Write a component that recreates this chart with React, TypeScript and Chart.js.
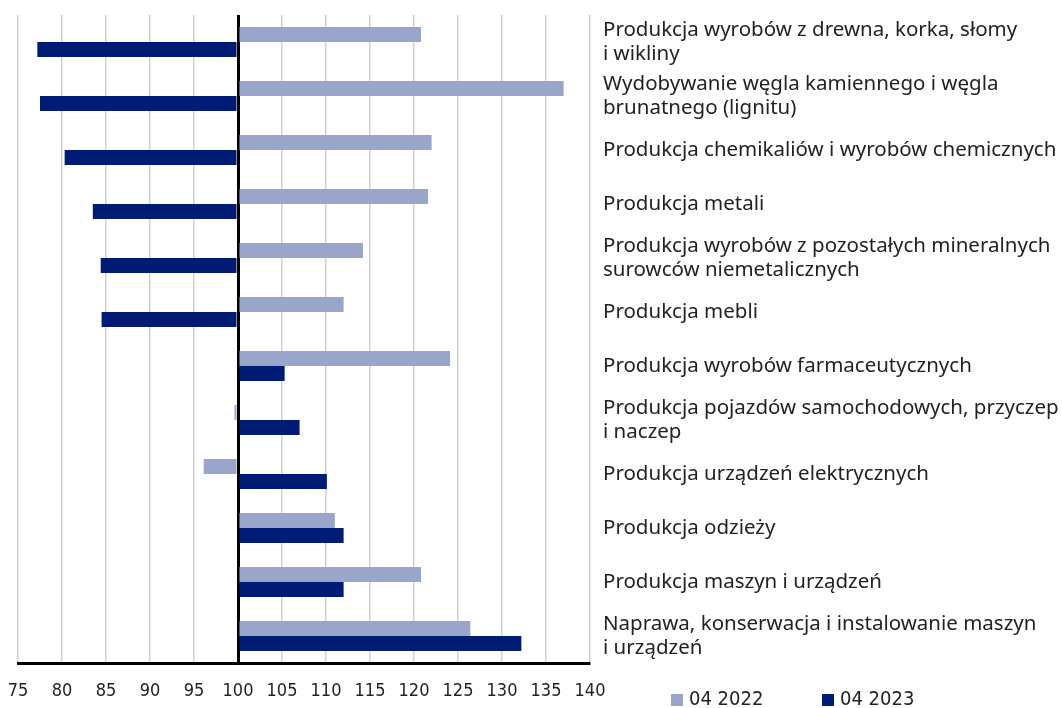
import React, { useEffect, useRef } from "react";
import { Chart, registerables } from "chart.js";

Chart.register(...registerables);

const categories: (string | string[])[] = [
  ["Produkcja wyrobów z drewna, korka, słomy", "i wikliny"],
  ["Wydobywanie węgla kamiennego i węgla", "brunatnego (lignitu)"],
  "Produkcja chemikaliów i wyrobów chemicznych",
  "Produkcja metali",
  ["Produkcja wyrobów z pozostałych mineralnych", "surowców niemetalicznych"],
  "Produkcja mebli",
  "Produkcja wyrobów farmaceutycznych",
  ["Produkcja pojazdów samochodowych, przyczep", "i naczep"],
  "Produkcja urządzeń elektrycznych",
  "Produkcja odzieży",
  "Produkcja maszyn i urządzeń",
  ["Naprawa, konserwacja i instalowanie maszyn", "i urządzeń"],
];

const series2022 = [120.8, 137.0, 122.0, 121.6, 114.2, 112.0, 124.1, 99.6, 96.1, 111.0, 120.8, 126.4];
const series2023 = [77.2, 77.5, 80.3, 83.5, 84.4, 84.5, 105.3, 107.0, 110.1, 112.0, 112.0, 132.2];
const seriesLabels = ["04 2022", "04 2023"];
const seriesColors = ["#99a5ca", "#001b73"];
const xMin = 75;
const xMax = 140;
const xStep = 5;
const baseValue = 100;

const narrowFont = "'DejaVu Sans Condensed', 'DejaVu Sans', sans-serif";

export default function App() {
  const canvasRef = useRef<HTMLCanvasElement | null>(null);

  useEffect(() => {
    if (!canvasRef.current) return;
    const chart = new Chart(canvasRef.current, {
      type: "bar",
      data: {
        labels: categories,
        datasets: [
          {
            label: seriesLabels[0],
            data: series2022,
            base: baseValue,
            backgroundColor: seriesColors[0],
            categoryPercentage: 0.56,
            barPercentage: 1,
          },
          {
            label: seriesLabels[1],
            data: series2023,
            base: baseValue,
            backgroundColor: seriesColors[1],
            categoryPercentage: 0.56,
            barPercentage: 1,
          },
        ],
      } as any,
      options: {
        indexAxis: "y",
        animation: false,
        responsive: false,
        maintainAspectRatio: false,
        layout: { padding: { left: 18, top: 15, right: 0, bottom: 0 } },
        plugins: { legend: { display: false }, tooltip: { enabled: false } },
        scales: {
          x: {
            type: "linear",
            min: xMin,
            max: xMax,
            ticks: {
              stepSize: xStep,
              color: "#222",
              padding: 18,
              font: { family: narrowFont, size: 18 },
            },
            grid: {
              drawTicks: false,
              color: (ctx: any) => (ctx.tick && ctx.tick.value === baseValue ? "#000" : "#d0d0d0"),
              lineWidth: (ctx: any) => (ctx.tick && ctx.tick.value === baseValue ? 3 : 1.5),
            },
            border: { display: true, color: "#000", width: 3 },
            afterFit: (scale: any) => {
              scale.height = 45;
              scale.paddingLeft = 0;
              scale.paddingRight = 0;
            },
          },
          y: {
            position: "right",
            grid: { display: false, drawTicks: false },
            border: { display: false },
            ticks: {
              color: "#222",
              padding: 13,
              crossAlign: "near",
              font: { family: "'Noto Sans'", size: 20.5, lineHeight: "24px" },
            },
            afterFit: (scale: any) => {
              scale.width = 472;
              scale.paddingTop = 0;
              scale.paddingBottom = 0;
            },
          },
        },
      } as any,
    });
    return () => chart.destroy();
  }, []);

  return (
    <div style={{ position: "absolute", left: 0, top: 0, width: 1062, height: 708, background: "#fff", overflow: "hidden" }}>
      <canvas ref={canvasRef} width={1062} height={708} style={{ display: "block" }} />
      {seriesLabels.map((lbl, i) => (
        <div
          key={lbl}
          style={{
            position: "absolute",
            left: i === 0 ? 671 : 822,
            top: 687,
            display: "flex",
            alignItems: "flex-end",
            fontFamily: narrowFont,
            fontSize: 20,
            color: "#222",
            lineHeight: "22px",
            whiteSpace: "nowrap",
          }}
        >
          <span style={{ display: "inline-block", width: 12, height: 12, background: seriesColors[i], marginRight: 6, marginBottom: 3 }} />
          <span>{lbl}</span>
        </div>
      ))}
    </div>
  );
}
